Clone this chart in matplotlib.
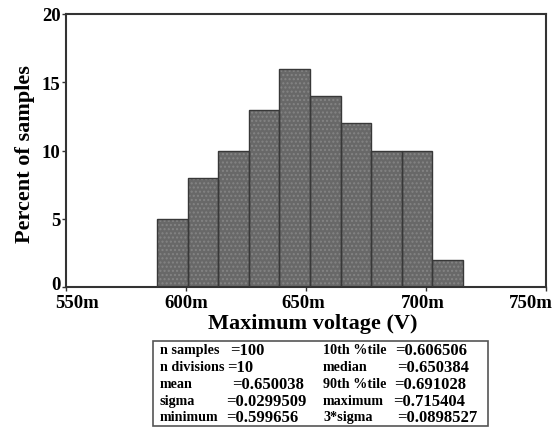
import matplotlib
matplotlib.use("Agg")
import matplotlib.pyplot as plt
import matplotlib.transforms as mtransforms
import numpy as np

# Data
bin_edges = [588.0, 600.7, 613.4, 626.2, 638.9, 651.6, 664.4, 677.1, 689.8, 702.6, 715.4]  # mV
percents = [5, 8, 10, 13, 16, 14, 12, 10, 10, 2]
x_ticks = [550, 600, 650, 700, 750]
y_ticks = [0, 5, 10, 15, 20]
x_tick_labels = ["550m", "600m", "650m", "700m", "750m"]

stats_left = [("n samples", "=100"), ("n divisions", "=10"), ("mean", "=0.650038"),
              ("sigma", "=0.0299509"), ("minimum", "=0.599656")]
stats_right = [("10th %tile", "=0.606506"), ("median", "=0.650384"), ("90th %tile", "=0.691028"),
               ("maximum", "=0.715404"), ("3*sigma", "=0.0898527")]

plt.rcParams['font.family'] = ['Liberation Serif', 'DejaVu Serif']
plt.rcParams['font.weight'] = 'bold'

W, H = 559, 431
fig = plt.figure(figsize=(W / 100, H / 100), dpi=100)
ax = fig.add_axes([66 / W, (H - 288) / H, (546 - 66) / W, (288 - 15) / H])

edges = np.array(bin_edges)
lefts = edges[:-1]
widths = np.diff(edges)
# dotted fill
ax.bar(lefts, percents, width=widths, align='edge', color='#686868',
       edgecolor='#848484', hatch='....', linewidth=0, zorder=2)
# outlines
ax.bar(lefts, percents, width=widths, align='edge', fill=False,
       edgecolor='#383838', linewidth=1.0, zorder=3)

ax.set_xlim(550, 750)
ax.set_ylim(0, 20)
ax.set_xticks(x_ticks)
ax.set_xticklabels(x_tick_labels)
ax.set_yticks(y_ticks)
ax.tick_params(axis='both', direction='out', length=3, width=1, colors='#333333',
               labelsize=13.5, labelcolor='black', pad=1)
ax.tick_params(axis='x', pad=2)
for lab in ax.get_xticklabels() + ax.get_yticklabels():
    lab.set_fontweight('bold')

def shift(label, dx, dy):
    label.set_transform(label.get_transform() +
                        mtransforms.ScaledTranslation(dx / 100, dy / 100, fig.dpi_scale_trans))

# keep end labels inside the figure like the reference
xl = ax.get_xticklabels()
shift(xl[0], 11, 0)
shift(xl[2], -3, 0)
shift(xl[3], -3, 0)
shift(xl[-1], -15, 0)
yl = ax.get_yticklabels()
shift(yl[0], 0, 4)

for s in ax.spines.values():
    s.set_color('#333333')
    s.set_linewidth(1.5)

ax.set_xlabel("Maximum voltage (V)", fontsize=16, fontweight='bold')
ax.xaxis.set_label_coords(0.514, -0.095)
ax.set_ylabel("Percent of samples", fontsize=16, fontweight='bold', va='center')
ax.yaxis.set_label_coords(-0.0854, 0.49)

# Stats box
box_l, box_r, box_t, box_b = 153, 488, 342, 427
fig.patches.append(plt.Rectangle((box_l / W, 1 - box_b / H), (box_r - box_l) / W,
                                 (box_b - box_t) / H, transform=fig.transFigure,
                                 fill=False, edgecolor='#555555', linewidth=1.2))
row_y = [351, 368, 385, 402, 418]
left_eq_x = [230, 227, 232, 226, 226]
right_eq_x = [395, 397, 394, 393, 397]
for i, ((l1, v1), (l2, v2)) in enumerate(zip(stats_left, stats_right)):
    y = 1 - row_y[i] / H
    fig.text(160 / W, y, l1, fontsize=10.2, fontweight='bold', va='center', ha='left')
    fig.text(left_eq_x[i] / W, y, v1, fontsize=12, fontweight='bold', va='center', ha='left')
    fig.text(323 / W, y, l2, fontsize=10.2, fontweight='bold', va='center', ha='left')
    fig.text(right_eq_x[i] / W, y, v2, fontsize=12, fontweight='bold', va='center', ha='left')

fig.savefig("out.png", dpi=100)
